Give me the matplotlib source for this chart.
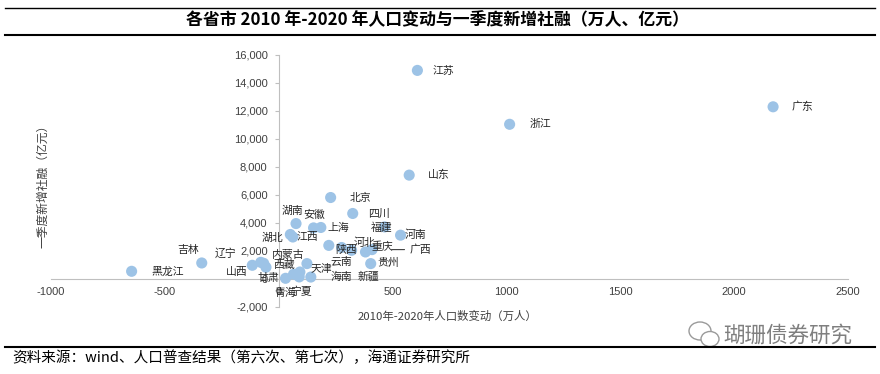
import matplotlib
matplotlib.use('Agg')
import matplotlib.pyplot as plt
from matplotlib.lines import Line2D
from matplotlib.patches import Ellipse

plt.rcParams['font.family'] = ['Noto Sans CJK SC', 'DejaVu Sans']

provinces = ['江苏', '广东', '浙江', '山东', '北京', '四川', '湖南', '安徽', '上海', '福建',
             '河南', '湖北', '江西', '陕西', '河北', '重庆', '广西', '贵州', '新疆', '云南',
             '天津', '海南', '宁夏', '青海', '西藏', '甘肃', '内蒙古', '山西', '辽宁', '吉林', '黑龙江']
pop_change = [609, 2171, 1014, 573, 228, 325, 76, 153, 185, 465,
              535, 51, 62, 220, 276, 320, 410, 381, 404, 124,
              93, 141, 90, 30, 65, -56, -66, -79, -116, -338, -646]
new_credit = [14900, 12300, 11050, 7420, 5820, 4680, 3960, 3650, 3680, 3720,
              3130, 3180, 3000, 2400, 2250, 2050, 2100, 1930, 1100, 1100,
              500, 140, 150, 50, 340, 840, 1120, 1190, 980, 1145, 550]

x_ticks = [-1000, -500, 0, 500, 1000, 1500, 2000, 2500]
y_ticks = [-2000, 0, 2000, 4000, 6000, 8000, 10000, 12000, 14000, 16000]

title = '各省市 2010 年-2020 年人口变动与一季度新增社融（万人、亿元）'
x_label = '2010年-2020年人口数变动（万人）'
y_label = '一季度新增社融（亿元）'
source = '资料来源：wind、人口普查结果（第六次、第七次），海通证券研究所'
watermark = '瑚珊债券研究'

# label placement: (dx px, dy px (down positive), ha)
label_pos = {
    '江苏': (15, 0, 'left'), '广东': (18, 0, 'left'), '浙江': (20, 0, 'left'),
    '山东': (19, 0, 'left'), '北京': (19, 0, 'left'), '四川': (15, 0, 'left'),
    '湖南': (-4, -13, 'center'), '安徽': (1, -13, 'center'), '上海': (7, 0, 'left'),
    '福建': (-3, 0, 'center'), '河南': (4, 0, 'left'), '湖北': (-7, 3, 'right'),
    '江西': (4, 0, 'left'), '陕西': (6, 4, 'left'), '河北': (12, -5, 'left'),
    '重庆': (20, -3, 'left'), '广西': (38, 0, 'left'), '贵州': (12, 11, 'left'),
    '新疆': (-2, 13, 'center'), '云南': (23, -2, 'left'), '天津': (11, -3, 'left'),
    '海南': (20, 0, 'left'), '宁夏': (2, 15, 'center'), '青海': (0, 15, 'center'),
    '西藏': (-9, -9, 'center'), '甘肃': (2, 11, 'center'), '内蒙古': (8, -8, 'left'),
    '山西': (-13, 10, 'right'), '辽宁': (-16, -12, 'right'), '吉林': (-14, -13, 'center'),
    '黑龙江': (20, 0, 'left'),
}

W, H = 880, 374
fig = plt.figure(figsize=(W / 100, H / 100), dpi=100)
ax = fig.add_axes([51 / W, 1 - 307 / H, (848 - 51) / W, (307 - 55) / H])
ax.set_xlim(-1000, 2500)
ax.set_ylim(-2000, 16000)

ax.scatter(pop_change, new_credit, s=64, color='#9dc3e6', edgecolors='none', zorder=3, clip_on=False)

for name, xv, yv in zip(provinces, pop_change, new_credit):
    dx, dy, ha = label_pos[name]
    kw = {}
    if name == '广西':
        kw['arrowprops'] = dict(arrowstyle='-', color='#404040', lw=0.8, shrinkA=2, shrinkB=14)
    ax.annotate(name, xy=(xv, yv), xytext=(dx * 0.72, -dy * 0.72), textcoords='offset points',
                ha=ha, va='center', fontsize=7.8, color='#262626', zorder=4, **kw)

for s in ['top', 'right']:
    ax.spines[s].set_visible(False)
ax.spines['left'].set_position(('data', 0))
ax.spines['bottom'].set_position(('data', 0))
for s in ['left', 'bottom']:
    ax.spines[s].set_color('#bfbfbf')
    ax.spines[s].set_linewidth(0.8)
    ax.spines[s].set_zorder(1)

ax.set_xticks(x_ticks, labels=[str(t) for t in x_ticks])
ax.set_yticks(y_ticks, labels=[f'{t:,}' for t in y_ticks])
ax.tick_params(axis='x', length=0, pad=6, labelsize=8, labelcolor='#404040', labelfontfamily='Liberation Sans')
ax.tick_params(axis='y', length=3, width=0.8, color='#bfbfbf', pad=5, labelsize=8,
               labelcolor='#404040', labelfontfamily='Liberation Sans')
ax.set_facecolor('none')

fig.text(447 / W, 1 - 316 / H, x_label, ha='center', va='center', fontsize=8.2, color='#404040')
fig.text(43 / W, 1 - 183 / H, y_label, ha='center', va='center', rotation=90, fontsize=8.5, color='#404040')

fig.text(437 / W, 1 - 20 / H, title, ha='center', va='center', fontsize=12.2, fontweight='bold', color='#000000')
fig.text(12 / W, 1 - 358 / H, source, ha='left', va='center', fontsize=10.5, color='#000000')
fig.text(788 / W, 1 - 336 / H, watermark, ha='center', va='center', fontsize=15.5, color='#7f7f7f')

fig.add_artist(Line2D([5 / W, 875 / W], [1 - 8 / H, 1 - 8 / H], color='#000000', lw=1.0, transform=fig.transFigure))
fig.add_artist(Line2D([5 / W, 875 / W], [1 - 35 / H, 1 - 35 / H], color='#000000', lw=1.5, transform=fig.transFigure))
fig.add_artist(Line2D([5 / W, 875 / W], [1 - 347 / H, 1 - 347 / H], color='#000000', lw=1.5, transform=fig.transFigure))

# wechat-like icon
fig.add_artist(Ellipse((700 / W, 1 - 331 / H), 22 / W, 18 / H, transform=fig.transFigure,
                       facecolor='white', edgecolor='#9a9a9a', lw=1.0))
fig.add_artist(Ellipse((710 / W, 1 - 339 / H), 18 / W, 15 / H, transform=fig.transFigure,
                       facecolor='white', edgecolor='#9a9a9a', lw=1.0))

fig.savefig('out.png', dpi=100)
